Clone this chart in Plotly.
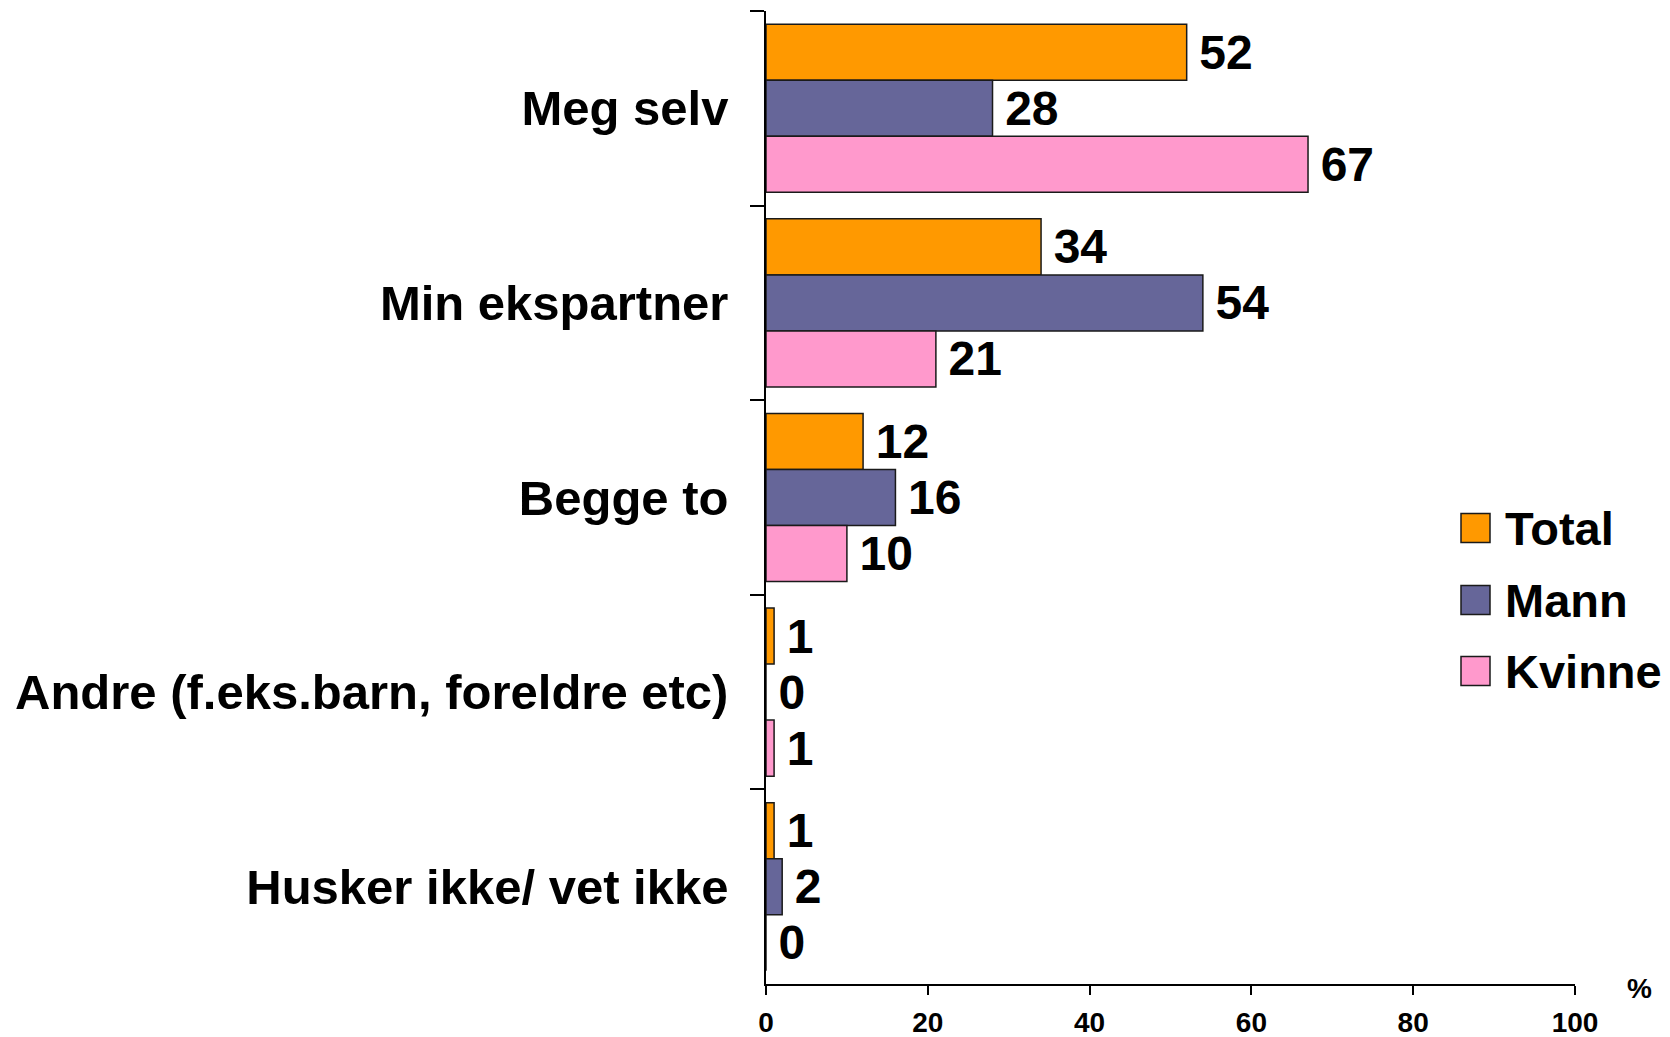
import plotly.graph_objects as go

categories = ["Meg selv", "Min ekspartner", "Begge to",
              "Andre (f.eks.barn, foreldre etc)", "Husker ikke/ vet ikke"]
series_names = ["Total", "Mann", "Kvinne"]
total = [52, 34, 12, 1, 1]
mann = [28, 54, 16, 0, 2]
kvinne = [67, 21, 10, 1, 0]
colors = ["#FF9900", "#666699", "#FF99CC"]
x_ticks = [0, 20, 40, 60, 80, 100]

FONT = "Liberation Sans, Arial, sans-serif"
NARROW = "Liberation Sans Narrow, Arial Narrow, Liberation Sans, Arial, sans-serif"

# page body has an 8px margin; plot area wanted at page x 766..1575, y 11..984
OFF = 8
W, H = 1670 - OFF, 1037 - OFF
PX0, PX1, PY0, PY1 = 766, 1575, 11, 984
L, R = PX0 - OFF, W + OFF - PX1
T, B = PY0 - OFF, H + OFF - PY1

fig = go.Figure()
for name, vals, col in zip(series_names, [total, mann, kvinne], colors):
    fig.add_trace(go.Bar(
        y=categories, x=vals, name=name, orientation="h",
        marker=dict(color=col, line=dict(color="#1a1a1a", width=1.5)),
        text=vals, texttemplate="\u2009%{x}", textposition="outside",
        textfont=dict(family=FONT, size=48, color="black", weight="bold"),
        cliponaxis=False, showlegend=False,
    ))

pw = PX1 - PX0
ph = PY1 - PY0
def px(x):
    return (x - PX0) / pw
def py(y):
    return (PY1 - y) / ph

leg_centers = [528, 600, 671]
shapes = []
annotations = []
for name, col, cy in zip(series_names, colors, leg_centers):
    shapes.append(dict(type="rect", xref="paper", yref="paper",
                       x0=px(1461), x1=px(1490), y0=py(cy + 14.5), y1=py(cy - 14.5),
                       fillcolor=col, line=dict(color="#1a1a1a", width=1.5)))
    annotations.append(dict(xref="paper", yref="paper", x=px(1503), y=py(cy),
                            xanchor="left", yanchor="middle", showarrow=False,
                            text=name,
                            font=dict(family=FONT, size=47, color="black", weight="bold")))

annotations.append(dict(xref="paper", yref="paper", x=px(1639), y=py(988),
                        xanchor="center", yanchor="middle", showarrow=False, text="%",
                        font=dict(family=NARROW, size=28, color="black", weight="bold")))

fig.update_layout(
    template="none",
    width=W, height=H,
    margin=dict(l=L, r=R, t=T, b=B, autoexpand=False),
    paper_bgcolor="white", plot_bgcolor="white",
    barmode="group", bargap=0.136, bargroupgap=0,
    showlegend=False,
    shapes=shapes, annotations=annotations,
    xaxis=dict(range=[0, 100], tickvals=x_ticks, showgrid=False, zeroline=False,
               automargin=False,
               showline=True, linecolor="black", linewidth=1.5,
               ticks="outside", ticklen=9, tickcolor="black", tickwidth=1.5,
               tickfont=dict(family=NARROW, size=28, color="black", weight="bold"),
               ticklabelstandoff=4),
    yaxis=dict(autorange="reversed", showgrid=False, zeroline=False,
               automargin=False,
               showline=True, linecolor="black", linewidth=1.5,
               ticks="outside", ticklen=14, tickcolor="black", tickwidth=1.5,
               tickson="boundaries",
               tickfont=dict(family=FONT, size=49, color="black", weight="bold"),
               ticklabelstandoff=26),
)

fig.write_html("out.html")
